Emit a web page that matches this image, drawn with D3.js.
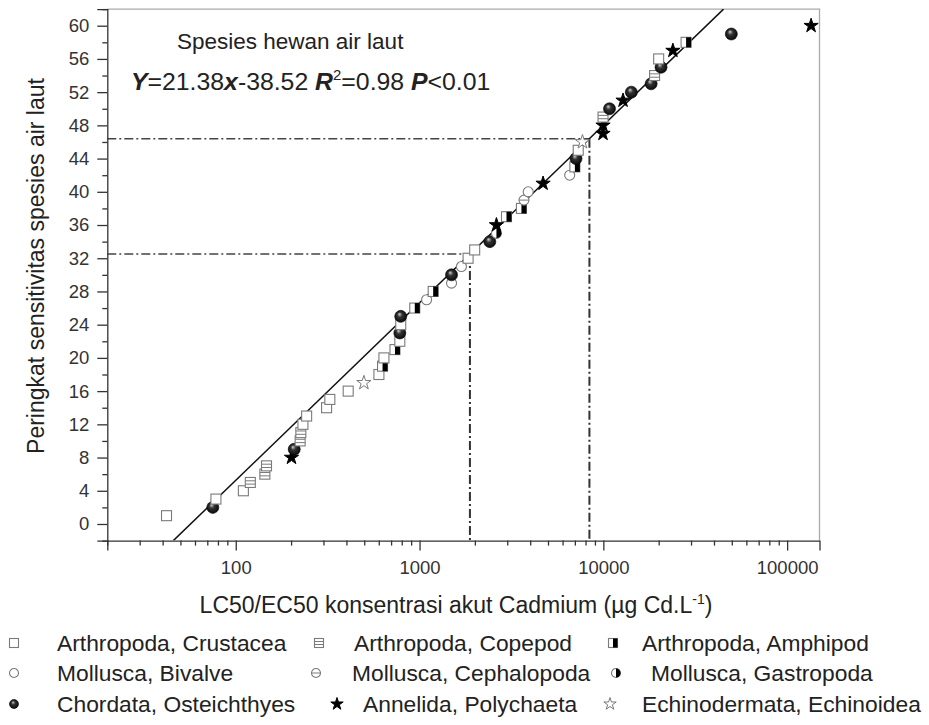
<!DOCTYPE html>
<html lang="en">
<head>
  <meta charset="UTF-8">
  <title>Cadmium SSD</title>
  <script src="https://d3js.org/d3.v7.min.js"></script>
  <style>
    body { margin: 0; background: white; font-family: "Liberation Sans", Arial, sans-serif; }
    .tick text { font-size: 18.5px; fill: #333; font-family: "Liberation Sans", Arial, sans-serif; }
    .axis path, .axis line { stroke: #333; stroke-width: 1.3px; }
    .lbl { fill: #222; }
  </style>
</head>
<body>
<svg id="svg" width="929" height="725"></svg>
<script>
// species rank (y) and acute LC50/EC50 concentration (x, ug/L)
const ranks = d3.range(1, 61);
const conc = [42, 75, 78, 110, 120, 144, 147, 201, 208, 224,
              226, 232, 243, 312, 325, 409, 498, 601, 629, 640,
              735, 781, 781, 790, 790, 942, 1092, 1186, 1493, 1493,
              1690, 1837, 1995, 2411, 2620, 2620, 2972, 3584, 3700, 3900,
              4700, 6560, 7000, 7100, 7300, 7700, 9960, 9960, 9960, 10800,
              12800, 14200, 18200, 19000, 20600, 20000, 23900, 28200, 49700, 135000];
// taxon group of each point (index into groupNames)
const groups = [0, 6, 0, 0, 1, 1, 1, 7, 6, 1,
                1, 0, 0, 0, 0, 0, 8, 0, 2, 0,
                2, 0, 6, 0, 6, 2, 3, 2, 3, 6,
                3, 0, 0, 6, 5, 7, 2, 2, 4, 3,
                7, 3, 2, 6, 0, 8, 7, 7, 1, 6,
                7, 6, 6, 1, 6, 0, 7, 2, 6, 7];
const groupNames = ["Arthropoda, Crustacea", "Arthropoda, Copepod", "Arthropoda, Amphipod",
                    "Mollusca, Bivalve", "Mollusca, Cephalopoda", "Mollusca, Gastropoda",
                    "Chordata, Osteichthyes", "Annelida, Polychaeta", "Echinodermata, Echinoidea"];
const yTicks = d3.range(0, 61, 4);
const xTicks = [100, 1000, 10000, 100000];
// fitted line as drawn, and the two read-off levels
const fitSlope = 21.38, fitIntercept = -37.5;
const crossY = [32.5, 46.4];

const svg = d3.select("#svg");
const x = d3.scaleLog().domain([20, 150000]).range([107.3, 819.5]);
const y = d3.scaleLinear().domain([-2, 62]).range([540.6, 9.1]);

const defs = svg.append("defs");
const grad = defs.append("radialGradient").attr("id", "ball")
  .attr("cx", "50%").attr("cy", "50%").attr("fx", "38%").attr("fy", "30%").attr("r", "60%");
grad.append("stop").attr("offset", "0%").attr("stop-color", "#d0d0d0");
grad.append("stop").attr("offset", "35%").attr("stop-color", "#333");
grad.append("stop").attr("offset", "100%").attr("stop-color", "#000");
defs.append("clipPath").attr("id", "clip").append("rect")
  .attr("x", x.range()[0]).attr("y", y.range()[1])
  .attr("width", x.range()[1] - x.range()[0]).attr("height", y.range()[0] - y.range()[1]);

// frame top/right
svg.append("path")
  .attr("d", `M${x.range()[0]},${y.range()[1]}H${x.range()[1]}V${y.range()[0]}`)
  .attr("fill", "none").attr("stroke", "#aaa").attr("stroke-width", 1.3);

// dash-dot reading lines
const dash = "9,3,2,3";
crossY.forEach(v => {
  const cx = Math.pow(10, (v - fitIntercept) / fitSlope);
  svg.append("line").attr("x1", x(20)).attr("x2", x(cx)).attr("y1", y(v)).attr("y2", y(v))
    .attr("stroke", "#444").attr("stroke-width", 1.5).attr("stroke-dasharray", dash);
  svg.append("line").attr("x1", x(cx)).attr("x2", x(cx)).attr("y1", y(v)).attr("y2", y(-2))
    .attr("stroke", "#333").attr("stroke-width", 2).attr("stroke-dasharray", dash);
});

// fit line
const yLo = -2, yHi = 62;
svg.append("line")
  .attr("clip-path", "url(#clip)")
  .attr("x1", x(Math.pow(10, (yLo - fitIntercept) / fitSlope))).attr("y1", y(yLo))
  .attr("x2", x(Math.pow(10, (yHi - fitIntercept) / fitSlope))).attr("y2", y(yHi))
  .attr("stroke", "#111").attr("stroke-width", 1.5);

// marker drawing
const grey = "#7a7a7a";
function drawMarker(g, type, s) {
  const h = s / 2;
  if (type <= 2) {
    g.append("rect").attr("x", -h).attr("y", -h).attr("width", s).attr("height", s)
      .attr("fill", "white").attr("stroke", grey).attr("stroke-width", 1.1);
    if (type == 1) {
      g.append("line").attr("x1", -h).attr("x2", h).attr("y1", -h / 3).attr("y2", -h / 3).attr("stroke", grey);
      g.append("line").attr("x1", -h).attr("x2", h).attr("y1", h / 3).attr("y2", h / 3).attr("stroke", grey);
    }
    if (type == 2) {
      g.append("rect").attr("x", 0).attr("y", -h).attr("width", h).attr("height", s).attr("fill", "#000");
    }
  } else if (type <= 5) {
    g.append("circle").attr("r", h).attr("fill", "white").attr("stroke", grey).attr("stroke-width", 1.1);
    if (type == 4) g.append("line").attr("x1", -h).attr("x2", h).attr("stroke", grey);
    if (type == 5) g.append("path").attr("d", `M0,${-h}A${h},${h} 0 0 1 0,${h}Z`).attr("fill", "#000");
  } else if (type == 6) {
    g.append("circle").attr("r", h).attr("fill", "url(#ball)").attr("stroke", "#000").attr("stroke-width", 0.6);
  } else {
    const star = d3.symbol().type(d3.symbolStar).size(s * s * 0.28)();
    g.append("path").attr("d", star)
      .attr("fill", type == 7 ? "#000" : "white")
      .attr("stroke", type == 7 ? "#000" : grey).attr("stroke-width", 1);
  }
}

const pts = ranks.map((r, i) => ({ r: r, c: conc[i], g: groups[i] }));
svg.append("g").selectAll("g").data(pts).join("g")
  .attr("transform", d => `translate(${x(d.c)},${y(d.r)})`)
  .each(function(d) { drawMarker(d3.select(this), d.g, d.g == 6 ? 12 : (d.g >= 7 ? 15 : 10)); });

// axes
svg.append("g").attr("class", "axis").attr("transform", `translate(${x.range()[0]},0)`)
  .call(d3.axisLeft(y).tickValues(yTicks).tickSize(10).tickPadding(8).tickFormat(d3.format("d")));
svg.append("g").attr("class", "axis").attr("transform", `translate(${x.range()[0]},0)`)
  .call(d3.axisLeft(y).tickValues(d3.range(-2, 63, 4)).tickSize(5).tickFormat(""))
  .select(".domain").remove();

const minorX = [];
[10, 100, 1000, 10000, 100000].forEach(dec => {
  for (let k = 2; k <= 9; k++) if (dec * k >= 20 && dec * k <= 150000) minorX.push(dec * k);
});
svg.append("g").attr("class", "axis").attr("transform", `translate(0,${y.range()[0]})`)
  .call(d3.axisBottom(x).tickValues(xTicks).tickSize(10).tickPadding(10).tickFormat(d3.format("d")));
svg.append("g").attr("class", "axis").attr("transform", `translate(0,${y.range()[0]})`)
  .call(d3.axisBottom(x).tickValues(minorX).tickSize(5).tickFormat(""))
  .select(".domain").remove();

// titles
svg.append("text").attr("class", "lbl").attr("transform", "translate(44,266) rotate(-90)")
  .attr("text-anchor", "middle").attr("font-size", 23).text("Peringkat sensitivitas spesies air laut");
const xt = svg.append("text").attr("class", "lbl").attr("x", 456).attr("y", 613)
  .attr("text-anchor", "middle").attr("font-size", 23);
xt.append("tspan").text("LC50/EC50 konsentrasi akut Cadmium (µg Cd.L");
xt.append("tspan").attr("dy", -9).attr("font-size", 14).text("-1");
xt.append("tspan").attr("dy", 9).text(")");

svg.append("text").attr("class", "lbl").attr("x", 177).attr("y", 49).attr("font-size", 22.5)
  .text("Spesies hewan air laut");
const eq = svg.append("text").attr("class", "lbl").attr("x", 131).attr("y", 90).attr("font-size", 24.8);
eq.append("tspan").attr("font-weight", "bold").attr("font-style", "italic").text("Y");
eq.append("tspan").text("=21.38");
eq.append("tspan").attr("font-weight", "bold").attr("font-style", "italic").text("x");
eq.append("tspan").text("-38.52 ");
eq.append("tspan").attr("font-weight", "bold").attr("font-style", "italic").text("R");
eq.append("tspan").attr("dy", -10).attr("font-size", 15).text("2");
eq.append("tspan").attr("dy", 10).text("=0.98 ");
eq.append("tspan").attr("font-weight", "bold").attr("font-style", "italic").text("P");
eq.append("tspan").text("<0.01");

// legend
const legX = [[14, 57], [319, 354], [613, 642], [14, 57], [316, 352], [616, 651], [14, 57], [337, 363], [610, 642]];
const legY = [643, 673, 704];
groupNames.forEach((name, i) => {
  const row = Math.floor(i / 3);
  const g = svg.append("g").attr("transform", `translate(${legX[i][0]},${legY[row]})`);
  drawMarker(g, i, i >= 7 ? 13 : 9);
  svg.append("text").attr("class", "lbl").attr("x", legX[i][1]).attr("y", legY[row] + 8)
    .attr("font-size", 22.8).text(name);
});
</script>
</body>
</html>
